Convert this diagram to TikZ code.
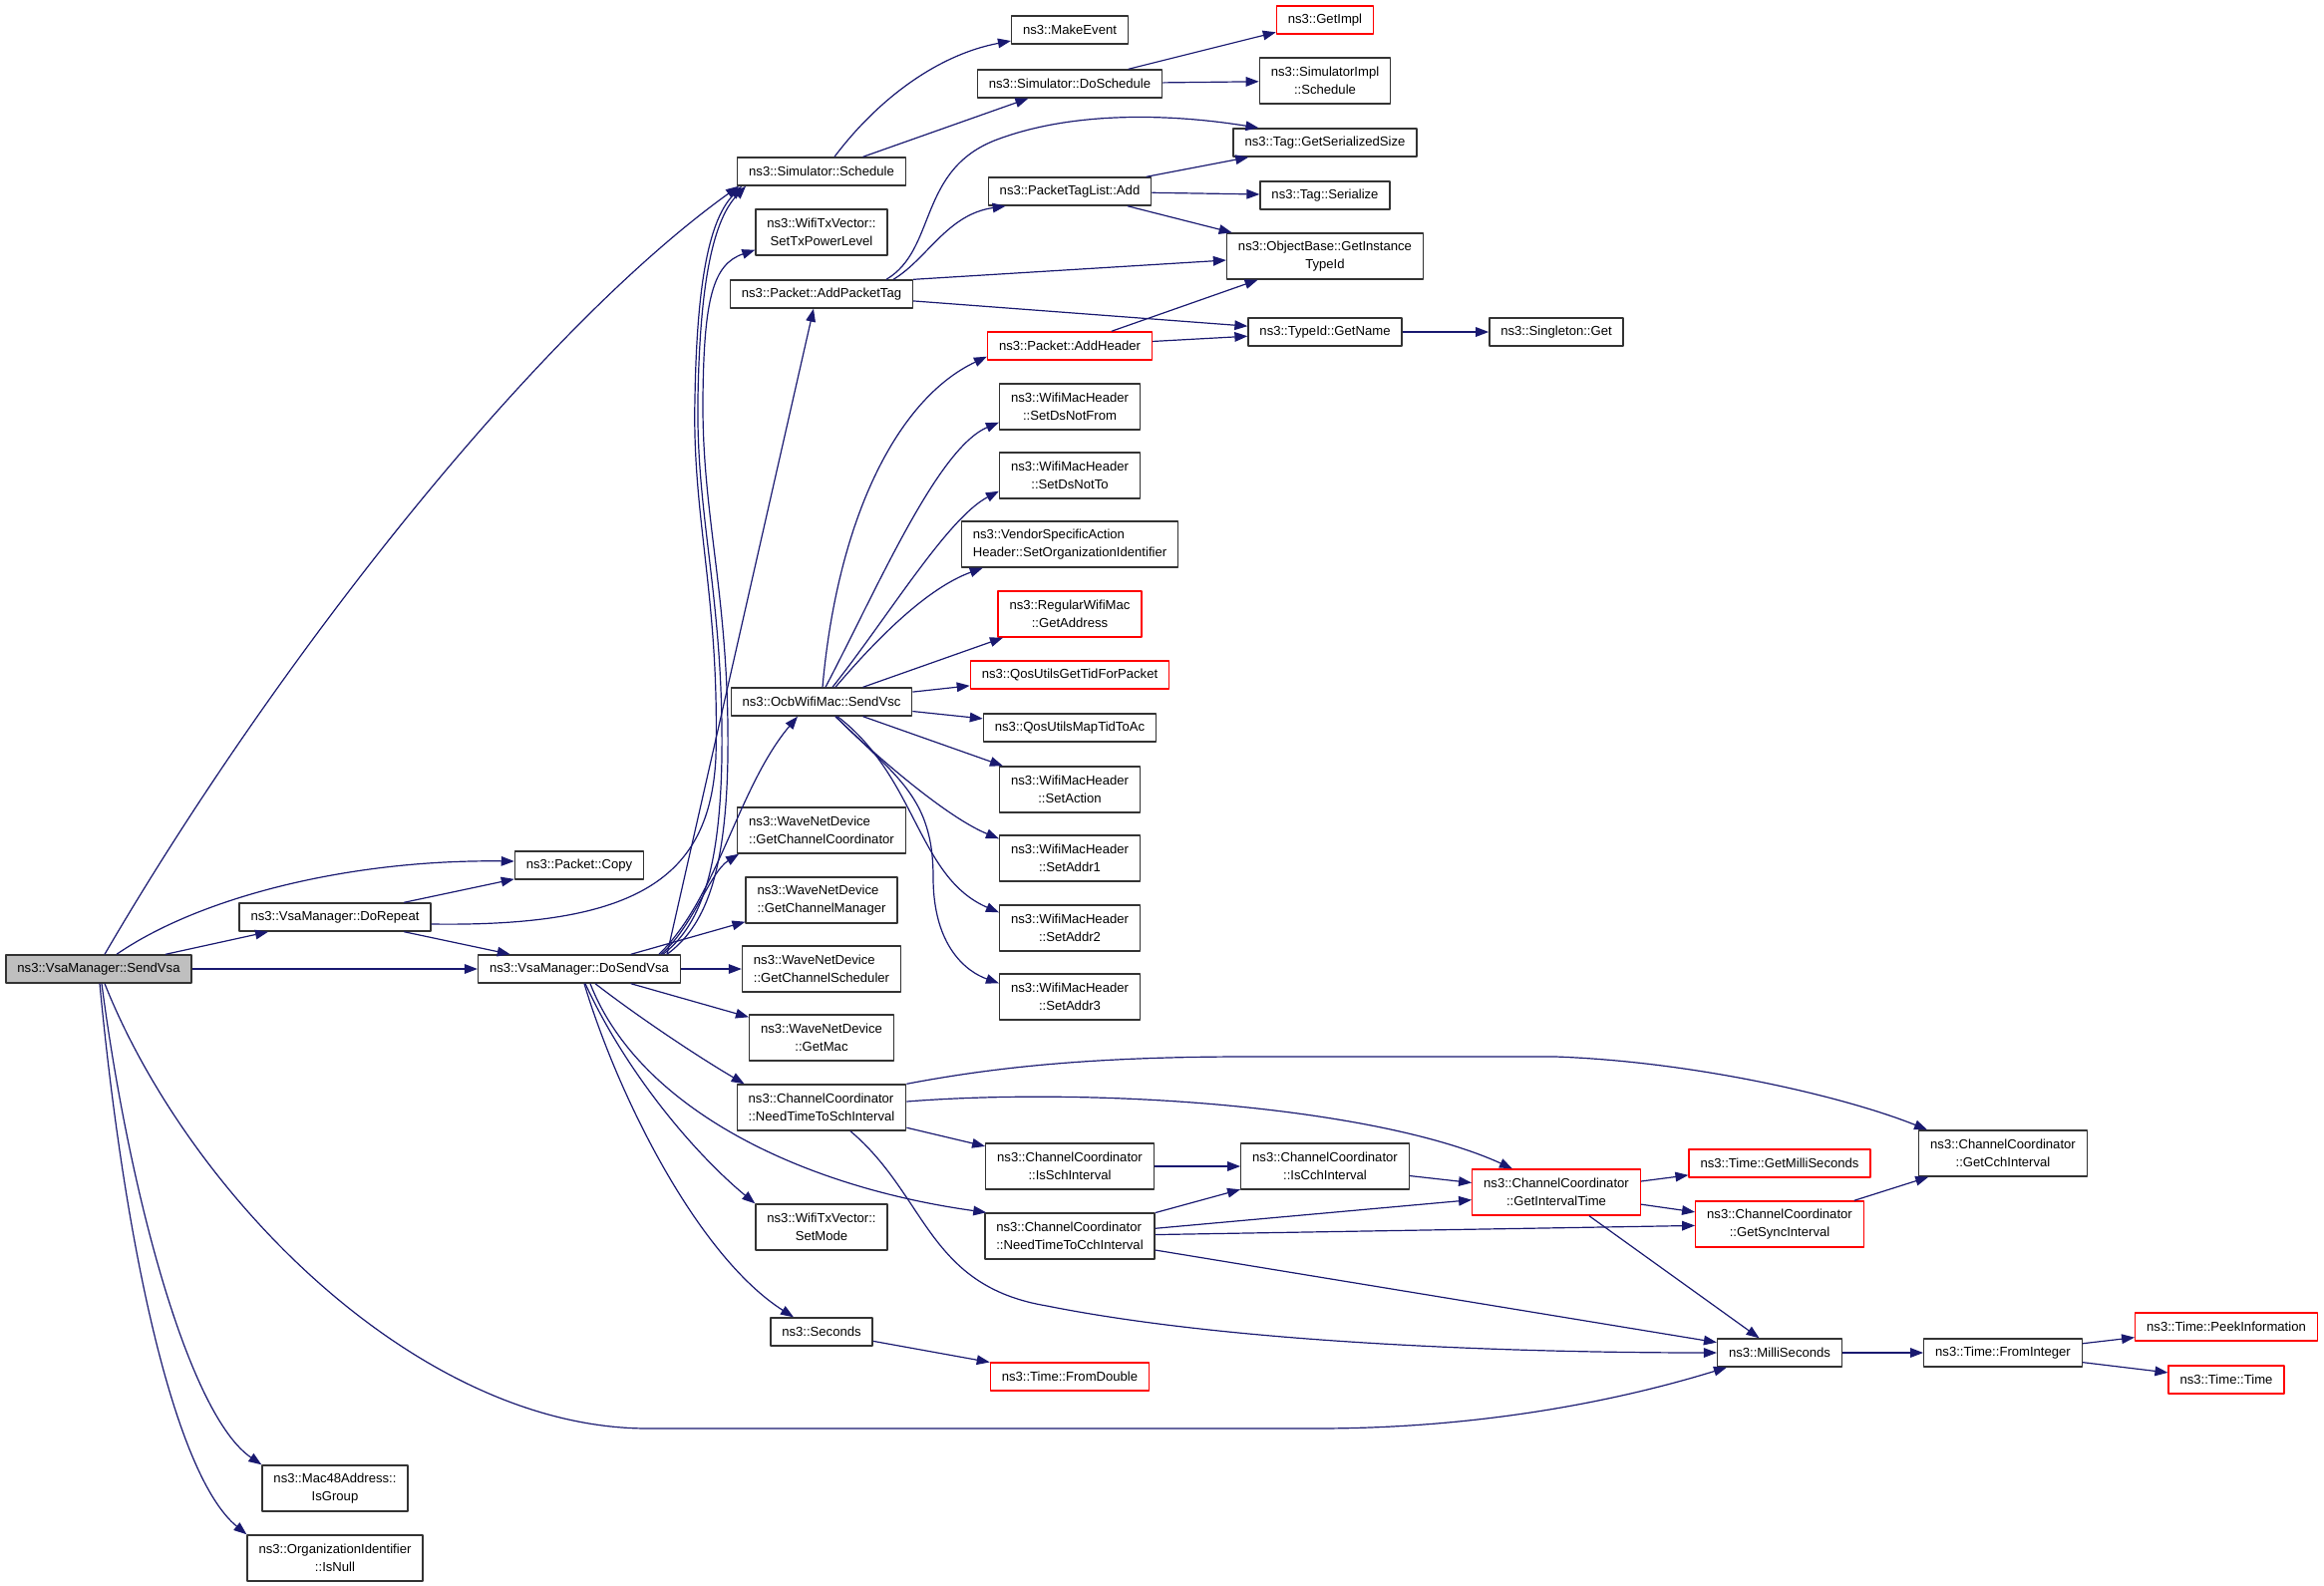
\documentclass[tikz,border=0pt]{standalone}
\usepackage{fontspec}
\setmainfont{Liberation Sans}
\usetikzlibrary{arrows.meta}
\definecolor{edgeblue}{HTML}{191970}
\definecolor{hlgray}{HTML}{BFBFBF}
\begin{document}
\begin{tikzpicture}[x=0.5pt, y=-0.5pt, font=\fontsize{6.55}{9}\selectfont, line join=round, >={Triangle[length=6.5pt,width=4.8pt]},
	box/.style={draw=black!80, line width=0.7pt, fill=white, inner xsep=5.7pt, inner ysep=2pt, minimum height=14pt, align=center},
	tall/.style={minimum height=23pt},
	redbox/.style={box, draw=red},
	self/.style={box, fill=hlgray},
	call/.style={->, color=edgeblue, line width=0.6pt}]
	\useasboundingbox (0,0) rectangle (2331,1591);
	\node[self] (sendvsa) at (99,972) {ns3::VsaManager::SendVsa};
	\node[box] (dorepeat) at (336,920) {ns3::VsaManager::DoRepeat};
	\node[box] (copy) at (581,868) {ns3::Packet::Copy};
	\node[box] (dosendvsa) at (581,972) {ns3::VsaManager::DoSendVsa};
	\node[box,tall] (isgroup) at (336,1493) {ns3::Mac48Address::\\IsGroup};
	\node[box,tall] (isnull) at (336,1563) {ns3::OrganizationIdentifier\\::IsNull};
	\node[box] (schedule) at (824,172) {ns3::Simulator::Schedule};
	\node[box,tall] (settxpower) at (824,233) {ns3::WifiTxVector::\\SetTxPowerLevel};
	\node[box] (addpackettag) at (824,295) {ns3::Packet::AddPacketTag};
	\node[box] (sendvsc) at (824,704) {ns3::OcbWifiMac::SendVsc};
	\node[box,tall,align=left] (getchcoord) at (824,833) {ns3::WaveNetDevice\\::GetChannelCoordinator};
	\node[box,tall,align=left] (getchmgr) at (824,903) {ns3::WaveNetDevice\\::GetChannelManager};
	\node[box,tall,align=left] (getchsched) at (824,972) {ns3::WaveNetDevice\\::GetChannelScheduler};
	\node[box,tall] (getmac) at (824,1041) {ns3::WaveNetDevice\\::GetMac};
	\node[box,tall,align=left] (needsch) at (824,1111) {ns3::ChannelCoordinator\\::NeedTimeToSchInterval};
	\node[box,tall] (setmode) at (824,1231) {ns3::WifiTxVector::\\SetMode};
	\node[box] (seconds) at (824,1336) {ns3::Seconds};
	\node[box] (makeevent) at (1073,30) {ns3::MakeEvent};
	\node[box] (doschedule) at (1073,84) {ns3::Simulator::DoSchedule};
	\node[box] (taglistadd) at (1073,192) {ns3::PacketTagList::Add};
	\node[redbox] (addheader) at (1073,347) {ns3::Packet::AddHeader};
	\node[box,tall] (setdsnotfrom) at (1073,408) {ns3::WifiMacHeader\\::SetDsNotFrom};
	\node[box,tall] (setdsnotto) at (1073,477) {ns3::WifiMacHeader\\::SetDsNotTo};
	\node[box,tall,align=left] (setorgid) at (1073,546) {ns3::VendorSpecificAction\\Header::SetOrganizationIdentifier};
	\node[redbox,tall] (getaddress) at (1073,616) {ns3::RegularWifiMac\\::GetAddress};
	\node[redbox] (gettid) at (1073,677) {ns3::QosUtilsGetTidForPacket};
	\node[box] (maptid) at (1073,730) {ns3::QosUtilsMapTidToAc};
	\node[box,tall] (setaction) at (1073,792) {ns3::WifiMacHeader\\::SetAction};
	\node[box,tall] (setaddr1) at (1073,861) {ns3::WifiMacHeader\\::SetAddr1};
	\node[box,tall] (setaddr2) at (1073,931) {ns3::WifiMacHeader\\::SetAddr2};
	\node[box,tall] (setaddr3) at (1073,1000) {ns3::WifiMacHeader\\::SetAddr3};
	\node[box,tall] (isschint) at (1073,1170) {ns3::ChannelCoordinator\\::IsSchInterval};
	\node[box,tall,align=left] (needcch) at (1073,1240) {ns3::ChannelCoordinator\\::NeedTimeToCchInterval};
	\node[redbox] (fromdouble) at (1073,1381) {ns3::Time::FromDouble};
	\node[redbox] (getimpl) at (1329,20) {ns3::GetImpl};
	\node[box,tall] (implschedule) at (1329,81) {ns3::SimulatorImpl\\::Schedule};
	\node[box] (getsersize) at (1329,143) {ns3::Tag::GetSerializedSize};
	\node[box] (tagserialize) at (1329,196) {ns3::Tag::Serialize};
	\node[box,tall] (getinstid) at (1329,257) {ns3::ObjectBase::GetInstance\\TypeId};
	\node[box] (getname) at (1329,333) {ns3::TypeId::GetName};
	\node[box,tall] (iscchint) at (1329,1170) {ns3::ChannelCoordinator\\::IsCchInterval};
	\node[box] (singleton) at (1561,333) {ns3::Singleton::Get};
	\node[redbox,tall] (getinterval) at (1561,1196) {ns3::ChannelCoordinator\\::GetIntervalTime};
	\node[redbox] (getmilli) at (1785,1167) {ns3::Time::GetMilliSeconds};
	\node[redbox,tall] (getsync) at (1785,1228) {ns3::ChannelCoordinator\\::GetSyncInterval};
	\node[box] (millisec) at (1785,1357) {ns3::MilliSeconds};
	\node[box,tall] (getcch) at (2009,1157) {ns3::ChannelCoordinator\\::GetCchInterval};
	\node[box] (frominteger) at (2009,1357) {ns3::Time::FromInteger};
	\node[redbox] (peekinfo) at (2233,1331) {ns3::Time::PeekInformation};
	\node[redbox] (timetime) at (2233,1384) {ns3::Time::Time};
	\draw[call] ([xshift=3pt]sendvsa.north) .. controls (280,657) and (540,331) .. ([xshift=1pt]schedule.south west);
	\draw[call] ([xshift=9pt]sendvsa.north) .. controls (200,900) and (350,862) .. ([yshift=2pt]copy.west);
	\draw[call] (sendvsa) -- (dorepeat);
	\draw[call] (sendvsa) -- (dosendvsa);
	\draw[call] ([xshift=3pt]sendvsa.south) .. controls (190,1200) and (420,1433) .. (650,1433) -- (1320,1433) .. controls (1500,1433) and (1640,1400) .. ([xshift=5pt]millisec.south west);
	\draw[call] ([xshift=1.5pt]sendvsa.south) .. controls (130,1200) and (190,1420) .. (isgroup.north west);
	\draw[call] ([xshift=0.5pt]sendvsa.south) .. controls (125,1250) and (175,1480) .. (isnull.north west);
	\draw[call] (dorepeat) -- (copy);
	\draw[call] (dorepeat) -- (dosendvsa);
	\draw[call] ([yshift=-3.5pt]dorepeat.east) .. controls (640,930) and (712,880) .. (718,760) .. controls (722,600) and (694,520) .. (697,400) .. controls (699,280) and (712,220) .. ([xshift=2.5pt]schedule.south west);
	\draw[call] ([xshift=42pt]dosendvsa.north) .. controls (700,930) and (722,880) .. (724,760) .. controls (726,600) and (698,520) .. (700,400) .. controls (702,280) and (716,220) .. ([xshift=4.5pt]schedule.south west);
	\draw[call] ([xshift=44pt]dosendvsa.north) .. controls (706,930) and (728,880) .. (730,760) .. controls (732,600) and (704,520) .. (705,400) .. controls (706,300) and (715,265) .. ([yshift=3pt]settxpower.south west);
	\draw[call] ([xshift=44pt]dosendvsa.north) -- ([xshift=-4pt]addpackettag.south);
	\draw[call] ([xshift=40pt]dosendvsa.north) .. controls (720,900) and (740,790) .. ([xshift=-12pt]sendvsc.south);
	\draw[call] ([xshift=41pt]dosendvsa.north) .. controls (695,930) and (712,875) .. ([xshift=1pt]getchcoord.south west);
	\draw[call] (dosendvsa) -- (getchmgr);
	\draw[call] (dosendvsa) -- (getchsched);
	\draw[call] (dosendvsa) -- (getmac);
	\draw[call] ([xshift=8pt]dosendvsa.south) .. controls (640,1020) and (700,1060) .. ([xshift=4pt]needsch.north west);
	\draw[call] ([xshift=5.5pt]dosendvsa.south) .. controls (640,1110) and (800,1190) .. ([xshift=1pt]needcch.north west);
	\draw[call] ([xshift=3pt]dosendvsa.south) .. controls (630,1080) and (700,1160) .. (setmode.north west);
	\draw[call] ([xshift=2.5pt]dosendvsa.south) .. controls (620,1100) and (700,1260) .. ([xshift=-14pt]seconds.north);
	\draw[call] ([xshift=6.5pt]schedule.north) .. controls (880,100) and (940,55) .. ([yshift=-5.5pt]makeevent.west);
	\draw[call] (schedule) -- (doschedule);
	\draw[call] (doschedule) -- (getimpl);
	\draw[call] (doschedule) -- (implschedule);
	\draw[call] ([xshift=32.5pt]addpackettag.north) .. controls (940,250) and (920,170) .. (1000,140) .. controls (1080,110) and (1180,115) .. ([xshift=13pt]getsersize.north west);
	\draw[call] ([xshift=36pt]addpackettag.north) .. controls (930,260) and (950,215) .. ([xshift=9pt]taglistadd.south west);
	\draw[call] (addpackettag.north east) -- ([yshift=-2pt]getinstid.west);
	\draw[call] (addpackettag) -- (getname);
	\draw[call] (taglistadd) -- (getsersize);
	\draw[call] (taglistadd) -- (tagserialize);
	\draw[call] (taglistadd) -- (getinstid);
	\draw[call] (addheader) -- (getinstid);
	\draw[call] (addheader) -- (getname);
	\draw[call] (getname) -- (singleton);
	\draw[call] ([xshift=0.5pt]sendvsc.north) .. controls (840,520) and (900,400) .. ([yshift=2pt]addheader.south west);
	\draw[call] ([xshift=2pt]sendvsc.north) .. controls (880,590) and (940,450) .. ([yshift=4pt]setdsnotfrom.south west);
	\draw[call] ([xshift=5.5pt]sendvsc.north) .. controls (890,620) and (950,520) .. ([yshift=4pt]setdsnotto.south west);
	\draw[call] ([xshift=7pt]sendvsc.north) .. controls (880,640) and (930,590) .. ([xshift=11pt]setorgid.south west);
	\draw[call] (sendvsc) -- (getaddress);
	\draw[call] (sendvsc) -- (gettid);
	\draw[call] (sendvsc) -- (maptid);
	\draw[call] (sendvsc) -- (setaction);
	\draw[call] ([xshift=7pt]sendvsc.south) .. controls (880,760) and (950,820) .. ([yshift=-2pt]setaddr1.north west);
	\draw[call] ([xshift=8pt]sendvsc.south) .. controls (920,780) and (920,880) .. ([yshift=-4pt]setaddr2.north west);
	\draw[call] ([xshift=7pt]sendvsc.south) .. controls (900,780) and (936,800) .. (936,880) .. controls (936,950) and (970,975) .. ([yshift=-5pt]setaddr3.north west);
	\draw[call] (needsch.north east) .. controls (1000,1070) and (1100,1060) .. (1250,1060) -- (1560,1060) .. controls (1700,1065) and (1850,1100) .. ([xshift=4.5pt]getcch.north west);
	\draw[call] ([yshift=3pt]needsch.east) .. controls (1100,1090) and (1380,1110) .. ([xshift=-22pt]getinterval.north);
	\draw[call] (needsch) -- (isschint);
	\draw[call] ([xshift=14.5pt]needsch.south) .. controls (930,1200) and (930,1290) .. (1050,1310) .. controls (1250,1350) and (1550,1357) .. (millisec.west);
	\draw[call] (isschint) -- (iscchint);
	\draw[call] (iscchint) -- (getinterval);
	\draw[call] (needcch) -- (iscchint);
	\draw[call] (needcch) -- (getinterval);
	\draw[call] (needcch) -- (getsync);
	\draw[call] (needcch) -- (millisec);
	\draw[call] (getinterval) -- (getmilli);
	\draw[call] (getinterval) -- (getsync);
	\draw[call] (getinterval) -- (millisec);
	\draw[call] (getsync) -- (getcch);
	\draw[call] (millisec) -- (frominteger);
	\draw[call] (frominteger) -- (peekinfo);
	\draw[call] (frominteger) -- (timetime);
	\draw[call] (seconds) -- (fromdouble);
\end{tikzpicture}
\end{document}
